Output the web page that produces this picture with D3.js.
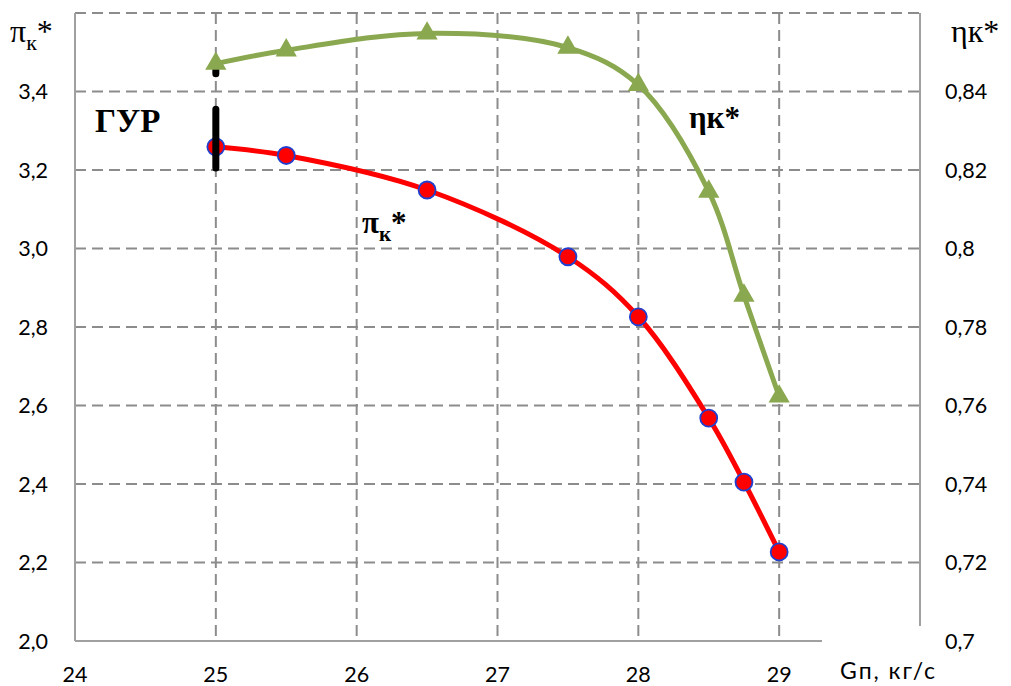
<!DOCTYPE html>
<html><head><meta charset="utf-8">
<script src="https://cdn.jsdelivr.net/npm/d3@7"></script>
<style>body{margin:0;background:#fff}svg{display:block}</style>
</head><body>
<script>
const gValues = [25, 25.5, 26.5, 27.5, 28, 28.5, 28.75, 29];
const piValues = [3.259, 3.237, 3.149, 2.979, 2.826, 2.568, 2.405, 2.227];
const etaValues = [0.8471, 0.8505, 0.8548, 0.8512, 0.8417, 0.8145, 0.7880, 0.7623];
const xTicks = [24, 25, 26, 27, 28, 29];
const xGrid = [25, 26, 27, 28, 29];
const yLeftTicks = [2.0, 2.2, 2.4, 2.6, 2.8, 3.0, 3.2, 3.4];
const yGrid = [2.2, 2.4, 2.6, 2.8, 3.0, 3.2, 3.4, 3.6];
const yRightTicks = [0.70, 0.72, 0.74, 0.76, 0.78, 0.80, 0.82, 0.84];
const gurX = 25;
const gurRange = [3.205, 3.355];

const W = 1011, H = 686;
const svg = d3.select("body").append("svg").attr("width", W).attr("height", H);
const x = d3.scaleLinear().domain([24, 30]).range([75, 920]);
const yL = d3.scaleLinear().domain([2.0, 3.6]).range([641, 13]);
const yR = d3.scaleLinear().domain([0.70, 0.86]).range([641, 13]);

const gridColor = "#8c8c8c";
const tickFont = "Lato, 'Open Sans', sans-serif";
const fmt = v => String(v).replace(".", ",");

// gridlines
svg.append("g").selectAll("line").data(yGrid).join("line")
  .attr("x1", 75).attr("x2", 920).attr("y1", d => yL(d)).attr("y2", d => yL(d))
  .attr("stroke", gridColor).attr("stroke-width", 2).attr("stroke-dasharray", "11,6");
svg.append("g").selectAll("line").data(xGrid).join("line")
  .attr("x1", d => x(d)).attr("x2", d => x(d)).attr("y1", 13).attr("y2", 641)
  .attr("stroke", gridColor).attr("stroke-width", 2).attr("stroke-dasharray", "11,6");

// axes lines
svg.append("line").attr("x1", 75).attr("x2", 75).attr("y1", 13).attr("y2", 641)
  .attr("stroke", "#a0a0a0").attr("stroke-width", 2);
svg.append("line").attr("x1", 75).attr("x2", 920).attr("y1", 641).attr("y2", 641)
  .attr("stroke", "#a0a0a0").attr("stroke-width", 2);
svg.append("line").attr("x1", 920).attr("x2", 920).attr("y1", 13).attr("y2", 641)
  .attr("stroke", "#a0a0a0").attr("stroke-width", 2);

// white box behind the x-axis title (covers axis ends like the original)
svg.append("rect").attr("x", 822).attr("y", 626).attr("width", 189).attr("height", 60).attr("fill", "#fff");

// tick labels
svg.append("g").selectAll("text").data(yLeftTicks).join("text")
  .attr("x", 48).attr("y", d => yL(d)).attr("dy", "0.35em").attr("text-anchor", "end")
  .attr("font-family", tickFont).attr("font-size", 21.5).attr("fill", "#000")
  .text(d => d.toFixed(1).replace(".", ","));
svg.append("g").selectAll("text").data(yRightTicks).join("text")
  .attr("x", 945).attr("y", d => yR(d)).attr("dy", "0.35em").attr("text-anchor", "start")
  .attr("font-family", tickFont).attr("font-size", 21.5).attr("fill", "#000")
  .text(d => fmt(+d.toFixed(2)));
svg.append("g").selectAll("text").data(xTicks).join("text")
  .attr("x", d => x(d)).attr("y", 682).attr("text-anchor", "middle")
  .attr("font-family", tickFont).attr("font-size", 21.5).attr("fill", "#000")
  .text(d => d);
svg.append("text").attr("x", 840).attr("y", 679)
  .attr("font-family", tickFont).attr("font-size", 23).attr("fill", "#000")
  .attr("textLength", 95).attr("lengthAdjust", "spacing").text("Gп, кг/с");

// axis titles
const serif = "'Liberation Serif', 'DejaVu Serif', serif";
const tL = svg.append("text").attr("x", 10).attr("y", 42).attr("font-family", serif).attr("font-size", 32);
tL.append("tspan").text("π");
tL.append("tspan").attr("font-size", 22).attr("dy", 8).text("к");
tL.append("tspan").attr("dy", -8).text("*");
svg.append("text").attr("x", 951).attr("y", 42).attr("font-family", serif).attr("font-size", 32).text("ηк*");

// GUR marks
svg.append("line").attr("x1", x(gurX)).attr("x2", x(gurX)).attr("y1", yR(etaValues[0]) + 6).attr("y2", yR(etaValues[0]) + 10)
  .attr("stroke", "#000").attr("stroke-width", 7).attr("stroke-linecap", "round");
svg.append("text").attr("x", 95).attr("y", 132).attr("font-family", serif).attr("font-weight", "bold")
  .attr("font-size", 33).text("ГУР");

// eta line
const green = "#8aa84f";
const lineEta = d3.line().x((d, i) => x(gValues[i])).y(d => yR(d)).curve(d3.curveCatmullRom.alpha(0.5));
svg.append("path").attr("d", lineEta(etaValues)).attr("fill", "none").attr("stroke", green).attr("stroke-width", 5);
const tri = d3.symbol().type(d3.symbolTriangle).size(195);
svg.append("g").selectAll("path").data(etaValues).join("path")
  .attr("transform", (d, i) => `translate(${x(gValues[i])},${yR(d)})`)
  .attr("d", tri()).attr("fill", green);

// pi line
const linePi = d3.line().x((d, i) => x(gValues[i])).y(d => yL(d)).curve(d3.curveCatmullRom.alpha(0.5));
svg.append("path").attr("d", linePi(piValues)).attr("fill", "none").attr("stroke", "#ff0000").attr("stroke-width", 5);
svg.append("g").selectAll("circle").data(piValues).join("circle")
  .attr("cx", (d, i) => x(gValues[i])).attr("cy", d => yL(d)).attr("r", 8.5)
  .attr("fill", "#ff0000").attr("stroke", "#1f3fd0").attr("stroke-width", 1.8);

// GUR line on top of first marker
svg.append("line").attr("x1", x(gurX)).attr("x2", x(gurX)).attr("y1", yL(gurRange[0])).attr("y2", yL(gurRange[1]))
  .attr("stroke", "#000").attr("stroke-width", 7).attr("stroke-linecap", "round");

// series labels
const tP = svg.append("text").attr("x", 362).attr("y", 233).attr("font-family", serif).attr("font-weight", "bold").attr("font-size", 31);
tP.append("tspan").text("π");
tP.append("tspan").attr("font-size", 21).attr("dy", 8).text("к");
tP.append("tspan").attr("dy", -8).text("*");
svg.append("text").attr("x", 689).attr("y", 128).attr("font-family", serif).attr("font-weight", "bold")
  .attr("font-size", 31).text("ηк*");
</script>
</body></html>
